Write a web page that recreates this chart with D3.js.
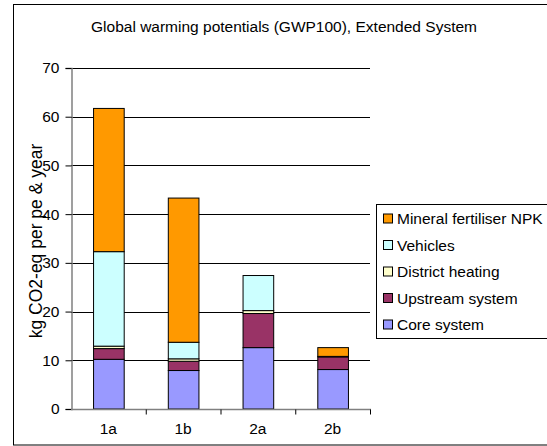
<!DOCTYPE html>
<html><head><meta charset="utf-8">
<script src="https://cdn.jsdelivr.net/npm/d3@7"></script>
<style>body{margin:0;background:#fff;} text{font-family:"Liberation Sans",Arial,sans-serif;}</style>
</head><body>
<svg id="c" width="547" height="446"></svg>
<script>
const categories = ["1a","1b","2a","2b"];
const seriesNames = ["Core system","Upstream system","District heating","Vehicles","Mineral fertiliser NPK"];
const coreSystem = [10.2, 7.9, 12.6, 8.1];
const upstreamSystem = [2.2, 1.9, 7.0, 2.6];
const districtHeating = [0.5, 0.5, 0.6, 0.1];
const vehicles = [19.4, 3.4, 7.2, 0];
const mineralFertiliser = [29.4, 29.6, 0, 1.8];
const yTicks = [0,10,20,30,40,50,60,70];
const colors = ["#9999FF","#993366","#FFFFCC","#CCFFFF","#FF9900"];
const seriesValues = [coreSystem, upstreamSystem, districtHeating, vehicles, mineralFertiliser];

const svg = d3.select("#c");
// outer border
svg.append("rect").attr("x",13.5).attr("y",4.5).attr("width",560).attr("height",440.5)
  .attr("fill","none").attr("stroke","#000").attr("stroke-width",1);

const x0 = 71, x1 = 370, y0 = 409, y1 = 68;
const x = d3.scaleBand().domain(categories).range([x0,x1]).paddingInner(0.59).paddingOuter(0.295);
const xb = d3.scaleBand().domain(categories).range([x0,x1]);
const y = d3.scaleLinear().domain([0,70]).range([y0,y1]);

// gridlines
svg.append("g").selectAll("line").data(yTicks.filter(d=>d>0)).join("line")
  .attr("x1",x0).attr("x2",x1).attr("y1",d=>Math.round(y(d))+0.5).attr("y2",d=>Math.round(y(d))+0.5)
  .attr("stroke","#000").attr("stroke-width",1);

// stacked data
const table = categories.map((c,i)=>{const o={cat:c}; seriesNames.forEach((s,j)=>o[s]=seriesValues[j][i]); return o;});
const stack = d3.stack().keys(seriesNames)(table);
const g = svg.append("g");
stack.forEach((layer,j)=>{
  g.selectAll(null).data(layer.filter(d=>d[1]-d[0]>0)).join("rect")
    .attr("x",d=>x(d.data.cat)+0.5).attr("width",x.bandwidth())
    .attr("y",d=>y(d[1])).attr("height",d=>y(d[0])-y(d[1]))
    .attr("fill",colors[j]).attr("stroke","#000").attr("stroke-width",1);
});

// y axis
const yAxis = d3.axisLeft(y).tickValues(yTicks).tickSize(6).tickPadding(6);
const ya = svg.append("g").attr("transform",`translate(${x0+0.5},0)`).call(yAxis);
ya.select(".domain").attr("stroke","#808080").attr("stroke-width",1.5);
ya.selectAll(".tick line").attr("stroke","#000");
ya.selectAll("text").attr("font-size",15.5).attr("fill","#000").attr("font-family","Liberation Sans, Arial, sans-serif");

// x axis
const xa = svg.append("g").attr("transform",`translate(0,${y0+0.5})`);
xa.append("line").attr("x1",x0).attr("x2",x1+1).attr("y1",0).attr("y2",0).attr("stroke","#808080").attr("stroke-width",1.5);
xa.selectAll(".tk").data(categories).join("line").attr("class","tk")
  .attr("x1",d=>xb(d)+xb.bandwidth()+0.5).attr("x2",d=>xb(d)+xb.bandwidth()+0.5).attr("y1",0).attr("y2",5).attr("stroke","#000");
xa.selectAll("text").data(categories).join("text")
  .attr("x",d=>xb(d)+xb.bandwidth()/2).attr("y",24).attr("text-anchor","middle")
  .attr("font-size",15.5).text(d=>d);

// title
svg.append("text").attr("x",284).attr("y",32).attr("text-anchor","middle").attr("font-size",15.5).text("Global warming potentials (GWP100), Extended System");

// y label
svg.append("text").attr("transform",`translate(42,241) rotate(-90)`).attr("text-anchor","middle").attr("font-size",17.5)
  .text("kg CO2-eq per pe & year");

// legend
const lg = svg.append("g");
lg.append("rect").attr("x",376.5).attr("y",204.5).attr("width",200).attr("height",134).attr("fill","#fff").attr("stroke","#000");
const legendOrder = [4,3,2,1,0];
legendOrder.forEach((j,k)=>{
  const cy = 218.5 + k*26.5;
  lg.append("rect").attr("x",383.5).attr("y",cy-4.5).attr("width",9).attr("height",9).attr("fill",colors[j]).attr("stroke","#000");
  lg.append("text").attr("x",397).attr("y",cy+5.5).attr("font-size",15.5).text(seriesNames[j]);
});
</script>
</body></html>
